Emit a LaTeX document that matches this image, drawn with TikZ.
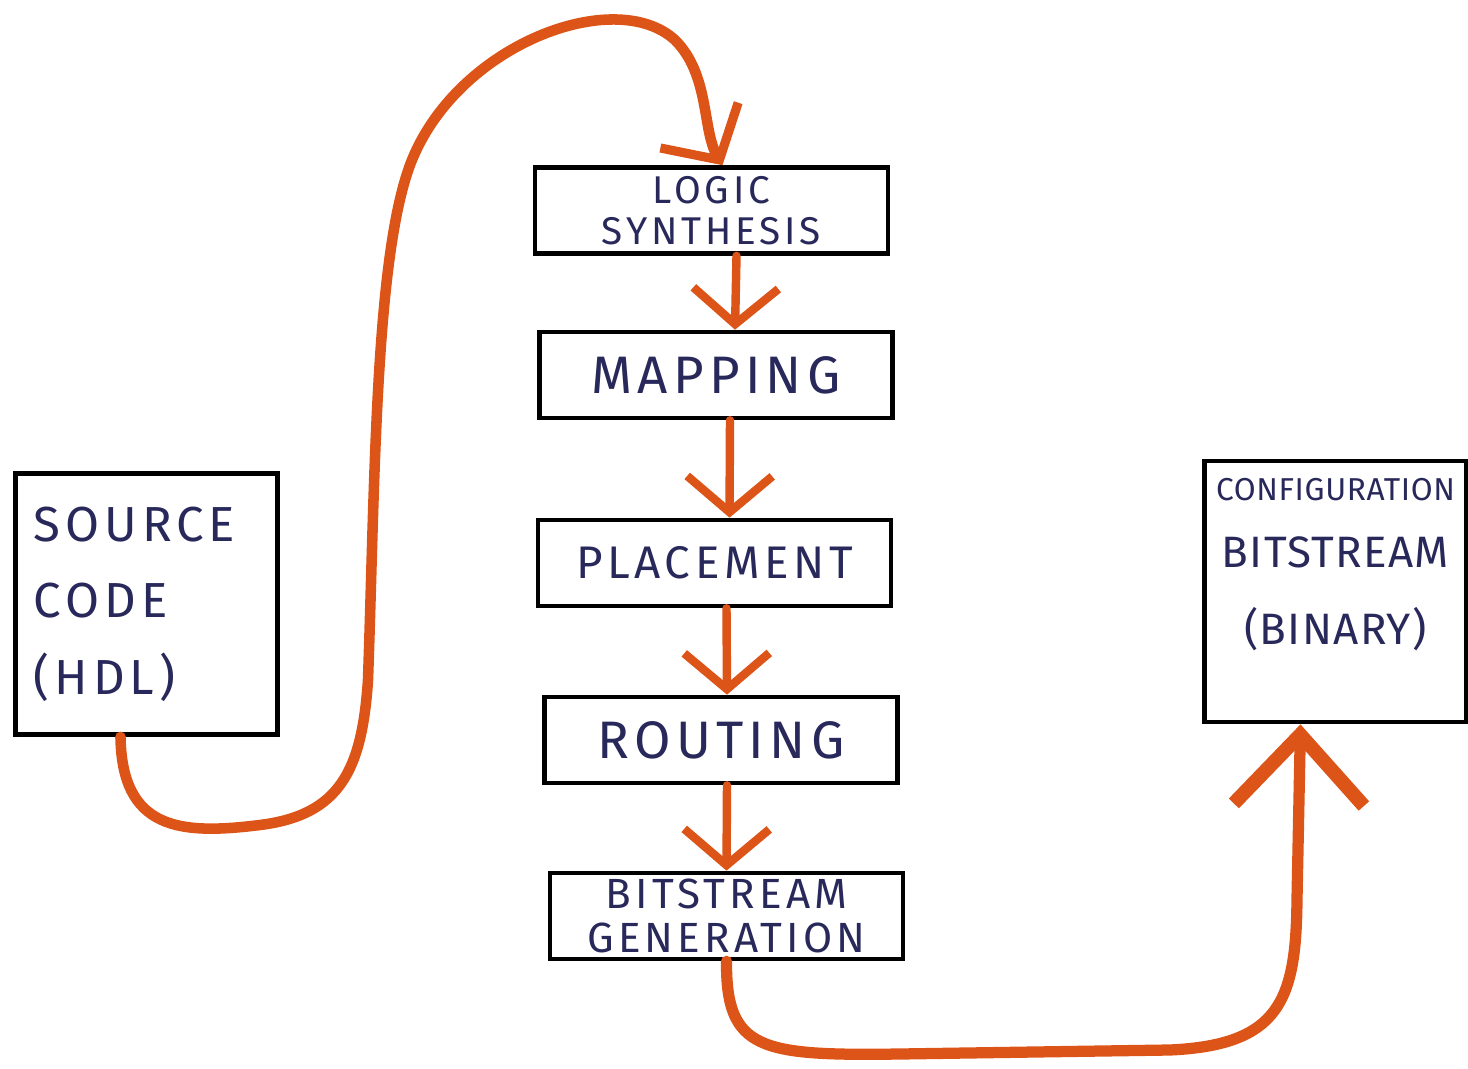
\documentclass[tikz,border=0pt]{standalone}
\usepackage{fontspec}
\setsansfont{Fira Sans}
\usepackage{tikz}
\usetikzlibrary{arrows.meta,positioning}
\definecolor{flowred}{RGB}{221,84,24}
\definecolor{inkblue}{RGB}{40,40,90}

\begin{document}
\begin{tikzpicture}[x=0.01cm, y=-0.01cm,
      stage/.style={draw=black, line width=1.3pt, minimum width=3.53cm, minimum height=0.86cm, inner sep=1pt, align=center, text=inkblue},
      bigbox/.style={draw=black, line width=1.3pt, minimum width=2.62cm, minimum height=2.61cm, inner sep=0pt, text=inkblue},
      hand/.style={font=\sffamily\addfontfeature{LetterSpace=10}\fontsize{#1}{1.05\dimexpr#1pt\relax}\selectfont},
      flow/.style={draw=flowred, line width=2.4pt, line cap=round, -{Straight Barb[length=3.6mm, width=8.5mm, line width=2.4pt]}},
      longflow/.style={draw=flowred, line width=3pt, line cap=round, -{Straight Barb[length=4mm, width=9mm, line width=2.6pt]}}
    ]
      \useasboundingbox (0,0) rectangle (1468,1069);

      % input and output
      \node[bigbox, hand=14, align=left, text width=2.25cm, inner xsep=0.18cm, minimum height=2.61cm] (src) at (146.5,604)
        {SOURCE\\[7pt] CODE\\[7pt] (HDL)};
      \node[bigbox, align=center, text depth=0.6cm] (cfg) at (1335.5,591.5)
        {{\sffamily\addfontfeature{LetterSpace=2}\fontsize{9}{10}\selectfont CONFIGURATION}\\[7pt]
         {\sffamily\addfontfeature{LetterSpace=3}\fontsize{12.5}{14}\selectfont BITSTREAM}\\[10pt]
         {\sffamily\addfontfeature{LetterSpace=3}\fontsize{12.5}{14}\selectfont (BINARY)}};

      % tool flow stages
      \node[stage, hand=11] (syn) at (711.5,210.5) {LOGIC\\SYNTHESIS};
      \node[stage, hand=15] (map) at (716,375) {MAPPING};
      \node[stage, hand=13] (place) at (714.5,563) {PLACEMENT};
      \node[stage, hand=15] (route) at (721,740) {ROUTING};
      \node[stage, hand=12] (bitgen) at (726.5,916) {BITSTREAM\\GENERATION};

      % arrows
      \draw[longflow] ([xshift=-0.26cm]src.south) .. controls (122,830) and (180,835) .. (260,825)
        .. controls (340,815) and (362,770) .. (368,680)
        .. controls (375,480) and (375,260) .. (410,165)
        .. controls (455,45) and (615,-15) .. (675,40)
        .. controls (710,75) and (702,130) .. ([xshift=0.11cm]syn.north);
      \draw[flow] ([xshift=0.25cm]syn.south) -- ([xshift=0.19cm]map.north);
      \draw[flow] ([xshift=0.14cm]map.south) -- ([xshift=0.15cm]place.north);
      \draw[flow] ([xshift=0.12cm]place.south) -- ([xshift=0.06cm]route.north);
      \draw[flow] ([xshift=0.06cm]route.south) -- (bitgen.north);
      \draw[draw=flowred, line width=3.2pt, line cap=round, -{Straight Barb[length=7mm, width=13mm, line width=4pt]}]
        (bitgen.south) .. controls (726,1050) and (760,1056) .. (900,1054)
        -- (1170,1050) .. controls (1280,1045) and (1296,1000) .. (1297,900)
        -- ([xshift=-0.35cm]cfg.south);
\end{tikzpicture}
\end{document}
